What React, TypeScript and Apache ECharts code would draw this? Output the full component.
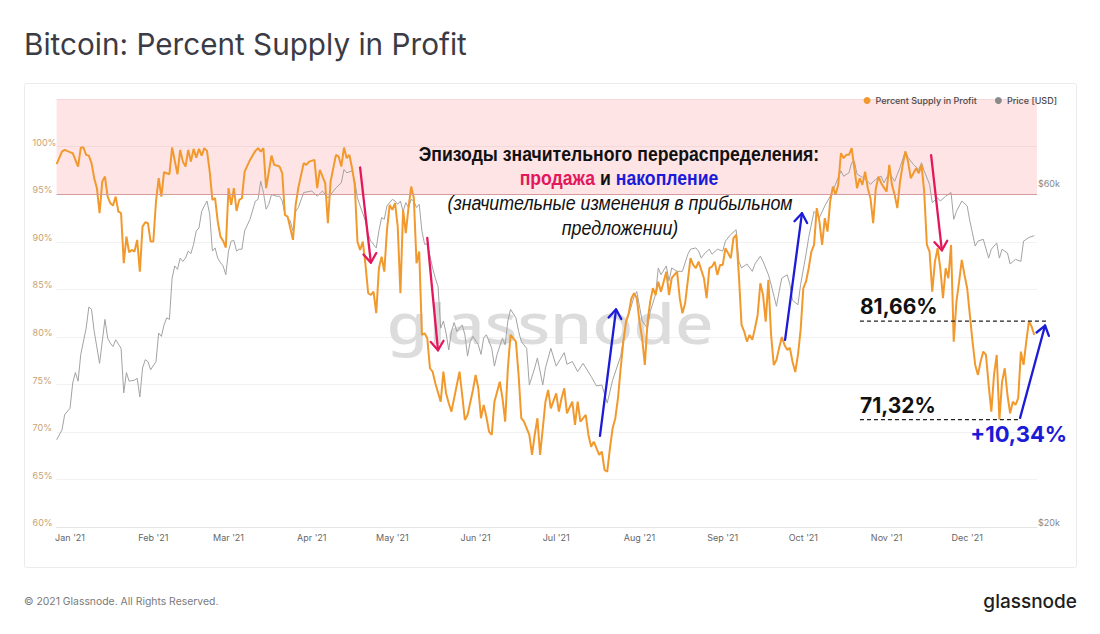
import React, { useEffect, useRef } from 'react';
import * as echarts from 'echarts';

// ---------- DATA ----------
const supplyInProfit: [string, number][] = [
  ['2020-12-27', 98.15], ['2020-12-29', 99.48], ['2020-12-30', 99.65], ['2021-01-01', 99.41], ['2021-01-02', 99.31],
  ['2021-01-04', 97.9], ['2021-01-05', 99.9], ['2021-01-06', 99.9], ['2021-01-07', 99.13], ['2021-01-08', 99.05],
  ['2021-01-09', 98.26], ['2021-01-10', 96.68], ['2021-01-11', 95.63], ['2021-01-12', 93.0], ['2021-01-13', 96.32],
  ['2021-01-14', 96.85], ['2021-01-15', 94.75], ['2021-01-16', 94.05], ['2021-01-17', 93.8], ['2021-01-18', 94.75],
  ['2021-01-19', 93.17], ['2021-01-20', 93.0], ['2021-01-21', 87.75], ['2021-01-22', 90.54], ['2021-01-23', 88.9],
  ['2021-01-24', 89.14], ['2021-01-25', 88.97], ['2021-01-26', 90.2], ['2021-01-27', 86.86], ['2021-01-28', 91.59],
  ['2021-01-29', 92.06], ['2021-01-30', 91.95], ['2021-01-31', 90.02], ['2021-02-01', 90.02], ['2021-02-02', 94.22],
  ['2021-02-03', 96.68], ['2021-02-04', 94.75], ['2021-02-05', 97.31], ['2021-02-07', 97.1], ['2021-02-08', 99.9],
  ['2021-02-10', 97.1], ['2021-02-11', 99.65], ['2021-02-12', 98.42], ['2021-02-13', 97.9], ['2021-02-14', 99.65],
  ['2021-02-15', 98.42], ['2021-02-16', 99.76], ['2021-02-17', 98.84], ['2021-02-18', 99.76], ['2021-02-19', 99.05],
  ['2021-02-20', 99.83], ['2021-02-21', 99.55], ['2021-02-22', 97.37], ['2021-02-23', 94.4], ['2021-02-24', 94.58],
  ['2021-02-25', 92.12], ['2021-02-26', 90.54], ['2021-02-27', 90.09], ['2021-02-28', 89.39], ['2021-03-01', 95.63],
  ['2021-03-02', 93.87], ['2021-03-03', 95.63], ['2021-03-04', 93.24], ['2021-03-05', 94.4], ['2021-03-06', 94.58],
  ['2021-03-07', 97.37], ['2021-03-09', 98.6], ['2021-03-11', 99.55], ['2021-03-12', 99.83], ['2021-03-13', 99.48],
  ['2021-03-14', 99.83], ['2021-03-15', 95.63], ['2021-03-17', 99.05], ['2021-03-18', 98.08], ['2021-03-20', 97.9],
  ['2021-03-21', 97.2], ['2021-03-22', 92.82], ['2021-03-23', 92.64], ['2021-03-25', 90.2], ['2021-03-26', 93.87],
  ['2021-03-27', 95.69], ['2021-03-29', 98.26], ['2021-03-30', 98.08], ['2021-03-31', 98.42], ['2021-04-02', 98.6],
  ['2021-04-03', 95.63], ['2021-04-04', 97.55], ['2021-04-06', 96.15], ['2021-04-07', 91.95], ['2021-04-08', 96.32],
  ['2021-04-10', 99.13], ['2021-04-11', 98.95], ['2021-04-12', 97.9], ['2021-04-13', 99.9], ['2021-04-14', 98.78],
  ['2021-04-15', 99.13], ['2021-04-16', 97.73], ['2021-04-17', 95.98], ['2021-04-18', 90.02], ['2021-04-19', 89.14],
  ['2021-04-20', 90.02], ['2021-04-21', 87.57], ['2021-04-22', 84.59], ['2021-04-23', 84.41], ['2021-04-24', 84.76],
  ['2021-04-25', 82.49], ['2021-04-26', 87.22], ['2021-04-27', 88.44], ['2021-04-28', 86.86], ['2021-04-29', 91.25],
  ['2021-04-30', 93.87], ['2021-05-01', 93.35], ['2021-05-02', 94.05], ['2021-05-03', 91.59], ['2021-05-04', 84.59],
  ['2021-05-05', 93.35], ['2021-05-06', 90.9], ['2021-05-07', 93.53], ['2021-05-08', 95.8], ['2021-05-09', 94.58],
  ['2021-05-10', 87.75], ['2021-05-11', 88.97], ['2021-05-12', 80.21], ['2021-05-13', 80.39], ['2021-05-14', 79.86],
  ['2021-05-15', 76.71], ['2021-05-16', 76.35], ['2021-05-17', 75.13], ['2021-05-19', 73.2], ['2021-05-20', 76.35],
  ['2021-05-21', 74.08], ['2021-05-22', 73.03], ['2021-05-23', 72.15], ['2021-05-24', 73.56], ['2021-05-26', 76.35],
  ['2021-05-27', 73.9], ['2021-05-28', 71.28], ['2021-05-29', 71.8], ['2021-05-31', 74.43], ['2021-06-01', 76.0],
  ['2021-06-02', 74.61], ['2021-06-03', 71.46], ['2021-06-04', 72.85], ['2021-06-05', 71.62], ['2021-06-06', 70.05],
  ['2021-06-07', 69.7], ['2021-06-08', 73.2], ['2021-06-10', 75.3], ['2021-06-11', 73.56], ['2021-06-12', 71.1],
  ['2021-06-13', 76.71], ['2021-06-14', 80.21], ['2021-06-16', 79.51], ['2021-06-17', 76.0], ['2021-06-18', 71.46],
  ['2021-06-19', 71.1], ['2021-06-21', 69.7], ['2021-06-22', 67.6], ['2021-06-23', 69.7], ['2021-06-24', 71.46],
  ['2021-06-25', 67.6], ['2021-06-26', 70.4], ['2021-06-27', 73.2], ['2021-06-28', 74.43], ['2021-06-29', 72.5],
  ['2021-07-01', 74.08], ['2021-07-02', 72.15], ['2021-07-03', 73.56], ['2021-07-04', 74.61], ['2021-07-05', 71.98],
  ['2021-07-07', 73.2], ['2021-07-08', 70.75], ['2021-07-09', 73.2], ['2021-07-10', 71.1], ['2021-07-12', 71.8],
  ['2021-07-13', 69.7], ['2021-07-14', 68.47], ['2021-07-15', 69.0], ['2021-07-17', 67.6], ['2021-07-18', 67.95],
  ['2021-07-19', 66.02], ['2021-07-20', 65.84], ['2021-07-21', 68.3], ['2021-07-22', 70.4], ['2021-07-23', 71.46],
  ['2021-07-24', 73.56], ['2021-07-25', 76.71], ['2021-07-26', 79.51], ['2021-07-27', 81.61], ['2021-07-28', 82.49],
  ['2021-07-29', 84.07], ['2021-07-30', 84.59], ['2021-07-31', 84.07], ['2021-08-01', 81.61], ['2021-08-02', 79.86],
  ['2021-08-03', 77.06], ['2021-08-04', 81.61], ['2021-08-05', 83.71], ['2021-08-06', 85.12], ['2021-08-07', 84.41],
  ['2021-08-08', 85.81], ['2021-08-09', 84.76], ['2021-08-10', 85.81], ['2021-08-11', 86.86], ['2021-08-12', 84.41],
  ['2021-08-13', 86.17], ['2021-08-15', 86.86], ['2021-08-16', 84.07], ['2021-08-17', 82.49], ['2021-08-18', 83.54],
  ['2021-08-20', 88.27], ['2021-08-21', 87.57], ['2021-08-22', 87.22], ['2021-08-23', 87.91], ['2021-08-25', 86.17],
  ['2021-08-26', 84.07], ['2021-08-27', 87.22], ['2021-08-28', 87.39], ['2021-08-29', 87.91], ['2021-08-30', 86.52],
  ['2021-08-31', 87.57], ['2021-09-01', 87.57], ['2021-09-02', 89.32], ['2021-09-03', 88.8], ['2021-09-04', 88.27],
  ['2021-09-05', 90.37], ['2021-09-06', 90.72], ['2021-09-07', 86.52], ['2021-09-08', 81.26], ['2021-09-09', 80.56],
  ['2021-09-10', 79.51], ['2021-09-11', 80.21], ['2021-09-12', 79.69], ['2021-09-13', 80.91], ['2021-09-14', 82.31],
  ['2021-09-15', 85.64], ['2021-09-16', 84.41], ['2021-09-17', 81.61], ['2021-09-18', 85.99], ['2021-09-19', 80.21],
  ['2021-09-20', 77.06], ['2021-09-21', 77.58], ['2021-09-22', 78.85], ['2021-09-23', 80.0], ['2021-09-24', 79.16],
  ['2021-09-25', 78.64], ['2021-09-26', 78.85], ['2021-09-27', 77.37], ['2021-09-28', 76.32], ['2021-09-29', 78.1],
  ['2021-09-30', 80.74], ['2021-10-01', 85.12], ['2021-10-02', 85.81], ['2021-10-03', 87.22], ['2021-10-04', 88.97],
  ['2021-10-05', 89.67], ['2021-10-06', 93.53], ['2021-10-07', 92.12], ['2021-10-08', 89.67], ['2021-10-09', 92.48],
  ['2021-10-10', 91.07], ['2021-10-11', 94.22], ['2021-10-12', 95.8], ['2021-10-13', 94.93], ['2021-10-14', 95.98],
  ['2021-10-15', 99.31], ['2021-10-16', 98.78], ['2021-10-17', 99.13], ['2021-10-18', 99.13], ['2021-10-19', 99.83],
  ['2021-10-20', 97.73], ['2021-10-21', 95.63], ['2021-10-22', 96.68], ['2021-10-23', 95.98], ['2021-10-24', 97.37],
  ['2021-10-25', 95.63], ['2021-10-26', 94.58], ['2021-10-27', 91.95], ['2021-10-28', 95.63], ['2021-10-29', 96.85],
  ['2021-10-30', 96.15], ['2021-11-01', 95.27], ['2021-11-02', 98.08], ['2021-11-03', 95.98], ['2021-11-04', 94.93],
  ['2021-11-05', 93.53], ['2021-11-06', 96.32], ['2021-11-07', 98.08], ['2021-11-08', 99.48], ['2021-11-09', 98.42],
  ['2021-11-10', 96.68], ['2021-11-12', 97.73], ['2021-11-13', 97.2], ['2021-11-14', 98.08], ['2021-11-15', 95.27],
  ['2021-11-16', 89.67], ['2021-11-17', 88.97], ['2021-11-18', 84.76], ['2021-11-19', 87.91], ['2021-11-20', 89.32],
  ['2021-11-21', 87.22], ['2021-11-22', 84.07], ['2021-11-23', 87.22], ['2021-11-24', 86.17], ['2021-11-25', 89.67],
  ['2021-11-26', 79.51], ['2021-11-27', 83.71], ['2021-11-28', 85.81], ['2021-11-29', 88.09], ['2021-11-30', 86.52],
  ['2021-12-01', 85.12], ['2021-12-02', 82.31], ['2021-12-03', 79.51], ['2021-12-04', 77.06], ['2021-12-05', 76.01],
  ['2021-12-06', 77.4], ['2021-12-07', 78.46], ['2021-12-08', 78.11], ['2021-12-09', 74.96], ['2021-12-10', 72.15],
  ['2021-12-11', 76.01], ['2021-12-12', 78.11], ['2021-12-13', 71.32], ['2021-12-14', 75.3], ['2021-12-15', 76.71],
  ['2021-12-16', 73.9], ['2021-12-17', 71.98], ['2021-12-18', 73.2], ['2021-12-19', 72.85], ['2021-12-20', 73.56],
  ['2021-12-21', 78.46], ['2021-12-22', 77.06], ['2021-12-23', 79.51], ['2021-12-24', 81.66], ['2021-12-25', 81.08],
  ['2021-12-26', 80.21],
];

const priceUsd: [string, number][] = [
  ['2020-12-27', 26550], ['2020-12-29', 27400], ['2020-12-30', 28800], ['2021-01-01', 29400], ['2021-01-02', 31900],
  ['2021-01-03', 33000], ['2021-01-04', 32100], ['2021-01-05', 35000], ['2021-01-07', 38100], ['2021-01-08', 40800],
  ['2021-01-09', 40500], ['2021-01-10', 37700], ['2021-01-12', 34000], ['2021-01-14', 39200], ['2021-01-15', 36900],
  ['2021-01-16', 36300], ['2021-01-17', 35900], ['2021-01-18', 36700], ['2021-01-20', 35700], ['2021-01-21', 30900],
  ['2021-01-22', 33000], ['2021-01-23', 32100], ['2021-01-25', 32200], ['2021-01-26', 32400], ['2021-01-27', 30500],
  ['2021-01-28', 33500], ['2021-01-29', 34400], ['2021-01-30', 34200], ['2021-01-31', 33300], ['2021-02-02', 34200],
  ['2021-02-03', 37500], ['2021-02-04', 37100], ['2021-02-05', 38500], ['2021-02-06', 39400], ['2021-02-07', 39200],
  ['2021-02-08', 44800], ['2021-02-09', 46600], ['2021-02-10', 46100], ['2021-02-11', 47800], ['2021-02-12', 47300],
  ['2021-02-13', 47800], ['2021-02-14', 48900], ['2021-02-15', 48500], ['2021-02-16', 50000], ['2021-02-17', 52200],
  ['2021-02-18', 52700], ['2021-02-19', 55600], ['2021-02-20', 56600], ['2021-02-21', 57500], ['2021-02-22', 55100],
  ['2021-02-23', 48900], ['2021-02-24', 49400], ['2021-02-25', 47800], ['2021-02-26', 47100], ['2021-02-27', 46600],
  ['2021-02-28', 45300], ['2021-03-01', 48900], ['2021-03-02', 50500], ['2021-03-03', 50600], ['2021-03-04', 48900],
  ['2021-03-05', 49200], ['2021-03-06', 49200], ['2021-03-07', 52200], ['2021-03-09', 54200], ['2021-03-11', 57500],
  ['2021-03-12', 57800], ['2021-03-13', 61300], ['2021-03-14', 59100], ['2021-03-15', 56000], ['2021-03-16', 56900],
  ['2021-03-17', 58700], ['2021-03-19', 58400], ['2021-03-20', 58400], ['2021-03-21', 57500], ['2021-03-22', 55100],
  ['2021-03-24', 53900], ['2021-03-25', 52200], ['2021-03-26', 55600], ['2021-03-27', 56300], ['2021-03-29', 59100],
  ['2021-04-01', 59400], ['2021-04-03', 58400], ['2021-04-05', 59400], ['2021-04-07', 58100], ['2021-04-08', 58700],
  ['2021-04-10', 60000], ['2021-04-12', 61000], ['2021-04-13', 63700], ['2021-04-14', 63000], ['2021-04-16', 63400],
  ['2021-04-17', 61300], ['2021-04-18', 58100], ['2021-04-19', 56600], ['2021-04-21', 53900], ['2021-04-22', 51600],
  ['2021-04-23', 50500], ['2021-04-25', 49400], ['2021-04-26', 52200], ['2021-04-27', 54500], ['2021-04-28', 54200],
  ['2021-04-29', 56600], ['2021-05-01', 57800], ['2021-05-02', 57500], ['2021-05-03', 56900], ['2021-05-04', 57500],
  ['2021-05-05', 55600], ['2021-05-06', 57200], ['2021-05-07', 56300], ['2021-05-08', 57800], ['2021-05-09', 57500],
  ['2021-05-10', 56300], ['2021-05-11', 56900], ['2021-05-12', 52200], ['2021-05-13', 50000], ['2021-05-14', 50000],
  ['2021-05-16', 46300], ['2021-05-17', 44800], ['2021-05-18', 43600], ['2021-05-19', 38100], ['2021-05-20', 39000],
  ['2021-05-21', 37500], ['2021-05-22', 35500], ['2021-05-23', 37700], ['2021-05-24', 38800], ['2021-05-25', 37700],
  ['2021-05-27', 38500], ['2021-05-28', 37300], ['2021-05-29', 34800], ['2021-05-30', 36500], ['2021-05-31', 37100],
  ['2021-06-02', 36100], ['2021-06-03', 35000], ['2021-06-04', 36900], ['2021-06-05', 37300], ['2021-06-07', 35700],
  ['2021-06-08', 33700], ['2021-06-09', 35000], ['2021-06-11', 36900], ['2021-06-12', 36100], ['2021-06-13', 39000],
  ['2021-06-14', 40500], ['2021-06-16', 39400], ['2021-06-17', 37700], ['2021-06-18', 36500], ['2021-06-20', 35700],
  ['2021-06-21', 31700], ['2021-06-23', 33500], ['2021-06-24', 34600], ['2021-06-26', 31700], ['2021-06-27', 33500],
  ['2021-06-29', 35700], ['2021-07-01', 33700], ['2021-07-04', 35200], ['2021-07-05', 33900], ['2021-07-07', 34200],
  ['2021-07-09', 33100], ['2021-07-11', 34000], ['2021-07-14', 32600], ['2021-07-16', 31600], ['2021-07-18', 31700],
  ['2021-07-20', 29900], ['2021-07-22', 32200], ['2021-07-25', 34800], ['2021-07-27', 38800], ['2021-07-28', 39800],
  ['2021-07-30', 42200], ['2021-07-31', 42900], ['2021-08-02', 39000], ['2021-08-04', 38100], ['2021-08-05', 40200],
  ['2021-08-07', 42500], ['2021-08-08', 46300], ['2021-08-09', 45300], ['2021-08-11', 46600], ['2021-08-12', 44400],
  ['2021-08-13', 46300], ['2021-08-15', 45800], ['2021-08-17', 45800], ['2021-08-19', 48400], ['2021-08-20', 49200],
  ['2021-08-22', 49400], ['2021-08-23', 48900], ['2021-08-24', 47800], ['2021-08-25', 48400], ['2021-08-27', 49200],
  ['2021-08-28', 48400], ['2021-08-30', 49200], ['2021-09-01', 48900], ['2021-09-02', 50500], ['2021-09-04', 51600],
  ['2021-09-06', 52400], ['2021-09-07', 47300], ['2021-09-08', 46300], ['2021-09-10', 46900], ['2021-09-12', 45800],
  ['2021-09-13', 46900], ['2021-09-15', 48100], ['2021-09-16', 47300], ['2021-09-18', 45300], ['2021-09-19', 43900],
  ['2021-09-21', 40900], ['2021-09-22', 42900], ['2021-09-23', 44800], ['2021-09-25', 45300], ['2021-09-26', 43900],
  ['2021-09-27', 41700], ['2021-09-29', 41100], ['2021-09-30', 43900], ['2021-10-02', 48400], ['2021-10-03', 51100],
  ['2021-10-05', 55600], ['2021-10-07', 54500], ['2021-10-09', 56600], ['2021-10-11', 58400], ['2021-10-13', 60700],
  ['2021-10-15', 63400], ['2021-10-16', 62300], ['2021-10-18', 63000], ['2021-10-19', 65100], ['2021-10-20', 65400],
  ['2021-10-21', 62700], ['2021-10-23', 62100], ['2021-10-25', 61300], ['2021-10-26', 60700], ['2021-10-28', 61700],
  ['2021-10-30', 62300], ['2021-10-31', 61000], ['2021-11-02', 63000], ['2021-11-04', 61300], ['2021-11-06', 64100],
  ['2021-11-08', 67600], ['2021-11-09', 66200], ['2021-11-11', 64700], ['2021-11-13', 63700], ['2021-11-14', 65100],
  ['2021-11-15', 63400], ['2021-11-17', 60700], ['2021-11-18', 57200], ['2021-11-20', 58100], ['2021-11-21', 57500],
  ['2021-11-23', 58400], ['2021-11-25', 59100], ['2021-11-26', 54200], ['2021-11-27', 55600], ['2021-11-29', 57500],
  ['2021-12-01', 56600], ['2021-12-02', 53900], ['2021-12-04', 49700], ['2021-12-05', 50500], ['2021-12-07', 50800],
  ['2021-12-09', 47800], ['2021-12-10', 49200], ['2021-12-12', 50200], ['2021-12-13', 47800], ['2021-12-14', 49200],
  ['2021-12-16', 48600], ['2021-12-17', 46900], ['2021-12-19', 47600], ['2021-12-21', 47300], ['2021-12-22', 50500],
  ['2021-12-24', 51100], ['2021-12-26', 51400],
];

const monthTicks = [
  '2021-01-01', '2021-02-01', '2021-03-01', '2021-04-01', '2021-05-01', '2021-06-01',
  '2021-07-01', '2021-08-01', '2021-09-01', '2021-10-01', '2021-11-01', '2021-12-01',
];
const monthNames = ['Jan', 'Feb', 'Mar', 'Apr', 'May', 'Jun', 'Jul', 'Aug', 'Sep', 'Oct', 'Nov', 'Dec'];
const priceTicks = [20000, 60000];
const highlightBand = [95, 105];

// annotation anchors in data coordinates [date, percent]
const sellArrows: [[string, number], [string, number]][] = [
  [['2021-04-19', 97.8], ['2021-04-23', 87.8]],
  [['2021-05-14', 90.4], ['2021-05-18', 78.6]],
  [['2021-11-17T14:00', 99.1], ['2021-11-21T14:00', 89.1]],
];
const buyArrows: [[string, number], [string, number]][] = [
  [['2021-07-17T07:00', 69.6], ['2021-07-23T07:00', 82.9]],
  [['2021-09-24T05:00', 79.7], ['2021-09-30T12:00', 93.0]],
  [['2021-12-20T17:00', 71.5], ['2021-12-30', 81.2]],
];
const levelLines = [
  { value: 81.66, label: '81,66%', from: '2021-10-22T02:00', to: '2021-12-30T17:00' },
  { value: 71.32, label: '71,32%', from: '2021-10-22T02:00', to: '2021-12-20T17:00' },
];
const changeLabel = '+10,34%';

const SELL = '#e3175c';
const BUY = '#1b1bd8';
const ORANGE = '#f2992e';
const GRAY = '#a3a3a3';

export default function App() {
  const ref = useRef<HTMLDivElement>(null);

  useEffect(() => {
    if (!ref.current) return;
    const chart = echarts.init(ref.current, null, { renderer: 'svg' });

    const option: any = {
      animation: false,
      backgroundColor: 'transparent',
      grid: { left: 56.6, right: 63, top: 99, bottom: 106.7, containLabel: false },
      legend: {
        right: 38,
        top: 91,
        icon: 'circle',
        itemWidth: 7,
        itemHeight: 7,
        itemGap: 18,
        selectedMode: false,
        textStyle: { fontSize: 9, color: '#4a4a4a', fontFamily: 'Inter, sans-serif', fontWeight: 500 },
        data: ['Percent Supply in Profit', 'Price [USD]'],
      },
      xAxis: {
        type: 'time',
        min: '2020-12-27',
        max: '2021-12-27',
        axisLine: { show: true, lineStyle: { color: '#e4e4e4' } },
        axisTick: { show: false },
        splitLine: { show: false },
        axisLabel: { show: false },
      },
      yAxis: [
        {
          type: 'value',
          min: 60,
          max: 105,
          interval: 5,
          axisLine: { show: false },
          axisTick: { show: false },
          splitLine: { show: true, lineStyle: { color: '#f1f1f1' } },
          axisLabel: {
            color: '#c9a273',
            fontSize: 9,
            fontFamily: 'Inter, sans-serif',
            align: 'left',
            margin: 24,
            verticalAlign: 'bottom',
            formatter: (v: number) => (v <= 100 ? v + '%' : ''),
          },
        },
        {
          type: 'log',
          min: 20000,
          max: 80000,
          position: 'right',
          axisLine: { show: false },
          axisTick: { show: false },
          splitLine: { show: false },
          axisLabel: { show: false },
        },
      ],
      series: [
        {
          name: 'Price [USD]',
          type: 'line',
          yAxisIndex: 1,
          data: priceUsd,
          showSymbol: false,
          symbol: 'none',
          z: 2,
          color: '#8a8a8a',
          lineStyle: { color: GRAY, width: 1 },
          itemStyle: { color: '#8a8a8a' },
        },
        {
          name: 'Percent Supply in Profit',
          type: 'line',
          yAxisIndex: 0,
          data: supplyInProfit,
          showSymbol: false,
          symbol: 'none',
          z: 3,
          color: ORANGE,
          lineStyle: { color: ORANGE, width: 2 },
          itemStyle: { color: ORANGE },
          markArea: {
            silent: true,
            itemStyle: { color: 'rgba(248,120,120,0.2)' },
            data: [[{ yAxis: highlightBand[0] }, { yAxis: highlightBand[1] }]],
          },
          markLine: {
            silent: true,
            symbol: 'none',
            label: { show: false },
            lineStyle: { color: '#d49c9c', type: 'solid', width: 1 },
            data: [{ yAxis: highlightBand[0] }],
          },
        },
      ],
    };
    chart.setOption(option);

    const toPx = (p: [string, number]) => chart.convertToPixel({ gridIndex: 0 }, p as any) as number[];
    const els: any[] = [];

    // card + texts
    els.push({
      type: 'rect', z: -10, silent: true,
      shape: { x: 24.5, y: 83.5, width: 1052, height: 484, r: 2 },
      style: { fill: '#fff', stroke: '#ebebeb', lineWidth: 1 },
    });
    els.push({
      type: 'text', x: 24, y: 44, z: 10,
      style: { text: 'Bitcoin: Percent Supply in Profit', font: '400 29.7px Inter, sans-serif', fill: '#3b3b45', textAlign: 'left', textVerticalAlign: 'middle' },
    });
    els.push({
      type: 'text', x: 24, y: 601, z: 10,
      style: { text: '© 2021 Glassnode. All Rights Reserved.', font: '10.4px Inter, sans-serif', fill: '#7a7a7a', textAlign: 'left', textVerticalAlign: 'middle' },
    });
    els.push({
      type: 'text', x: 1077, y: 601, z: 10,
      style: { text: 'glassnode', font: '500 19px Inter, sans-serif', fill: '#1e1e1e', textAlign: 'right', textVerticalAlign: 'middle' },
    });
    // watermark
    els.push({
      type: 'text', x: 550, y: 322, z: 1, silent: true, scaleX: 1.2,
      style: { text: 'glassnode', font: '500 56px "Noto Sans", sans-serif', fill: '#dcdcdc', textAlign: 'center', textVerticalAlign: 'middle' },
    });

    // x-axis month labels placed through the time scale
    monthTicks.forEach((m) => {
      const x = chart.convertToPixel({ xAxisIndex: 0 }, m as any) as number;
      const d = new Date(m + 'T00:00:00');
      els.push({
        type: 'text', x, y: 537, z: 10,
        style: { text: monthNames[d.getMonth()] + " '" + String(d.getFullYear()).slice(2), font: '9px Inter, sans-serif', fill: '#666', textAlign: 'center', textVerticalAlign: 'middle' },
      });
    });

    // right axis labels through the log scale
    priceTicks.forEach((t) => {
      const y = chart.convertToPixel({ yAxisIndex: 1 }, t) as number;
      els.push({
        type: 'text', x: 1038, y, z: 10,
        style: { text: '$' + Math.round(t / 1000) + 'k', font: '9px Inter, sans-serif', fill: '#888', textAlign: 'left', textVerticalAlign: 'bottom' },
      });
    });

    // annotation block
    const SXB = 0.84;
    const SXI = 0.89;
    const narrowBold = 'bold 21px "Liberation Sans", Arial, sans-serif';
    const narrowItalic = 'italic 20px "Liberation Sans", Arial, sans-serif';
    const centerX = 619;
    els.push({
      type: 'text', x: centerX, y: 153, z: 100, scaleX: SXB,
      style: { text: 'Эпизоды значительного перераспределения:', font: narrowBold, fill: '#111', textAlign: 'center', textVerticalAlign: 'middle' },
    });
    els.push({
      type: 'text', x: centerX, y: 177, z: 100, scaleX: SXB,
      style: {
        text: '{a|продажа} {b|и} {c|накопление}',
        font: narrowBold,
        fill: '#111',
        textAlign: 'center', textVerticalAlign: 'middle',
        rich: {
          a: { fill: SELL, font: narrowBold },
          b: { fill: '#111', font: narrowBold },
          c: { fill: BUY, font: narrowBold },
        },
      },
    });
    els.push({
      type: 'text', x: 620, y: 203, z: 100, scaleX: SXI,
      style: { text: '(значительные изменения в прибыльном', font: narrowItalic, fill: '#111', textAlign: 'center', textVerticalAlign: 'middle' },
    });
    els.push({
      type: 'text', x: 620, y: 228, z: 100, scaleX: SXI,
      style: { text: 'предложении)', font: narrowItalic, fill: '#111', textAlign: 'center', textVerticalAlign: 'middle' },
    });

    const arrow = (a: number[], b: number[], color: string) => {
      const ang = Math.atan2(b[1] - a[1], b[0] - a[0]);
      const L = 11;
      const s = 0.62;
      const w1 = [b[0] - L * Math.cos(ang - s), b[1] - L * Math.sin(ang - s)];
      const w2 = [b[0] - L * Math.cos(ang + s), b[1] - L * Math.sin(ang + s)];
      els.push({ type: 'line', z: 100, shape: { x1: a[0], y1: a[1], x2: b[0], y2: b[1] }, style: { stroke: color, lineWidth: 2.3, lineCap: 'round' } });
      els.push({ type: 'polyline', z: 100, shape: { points: [w1, b, w2] }, style: { stroke: color, fill: null, lineWidth: 2.3, lineCap: 'round', lineJoin: 'round' } });
    };
    sellArrows.forEach(([a, b]) => arrow(toPx(a), toPx(b), SELL));
    buyArrows.forEach(([a, b]) => arrow(toPx(a), toPx(b), BUY));

    levelLines.forEach((lv) => {
      const p0 = toPx([lv.from, lv.value]);
      const p1 = toPx([lv.to, lv.value]);
      els.push({ type: 'line', z: 100, shape: { x1: p0[0], y1: p0[1], x2: p1[0], y2: p1[1] }, style: { stroke: '#222', lineWidth: 1.2, lineDash: [4, 3] } });
      els.push({
        type: 'text', x: p0[0], y: p0[1] - 4, z: 100,
        style: { text: lv.label, font: 'bold 21px Inter, sans-serif', fill: '#111', textAlign: 'left', textVerticalAlign: 'bottom' },
      });
    });
    const lowEnd = toPx([levelLines[1].to, levelLines[1].value]);
    els.push({
      type: 'text', x: lowEnd[0] + 47, y: lowEnd[1] + 14, z: 100,
      style: { text: changeLabel, font: 'bold 22px Inter, sans-serif', fill: BUY, textAlign: 'right', textVerticalAlign: 'middle' },
    });

    chart.setOption({ graphic: { elements: els } });

    return () => chart.dispose();
  }, []);

  return (
    <div
      ref={ref}
      style={{ position: 'fixed', left: 0, top: 0, width: 1100, height: 634, background: '#fff' }}
    />
  );
}
